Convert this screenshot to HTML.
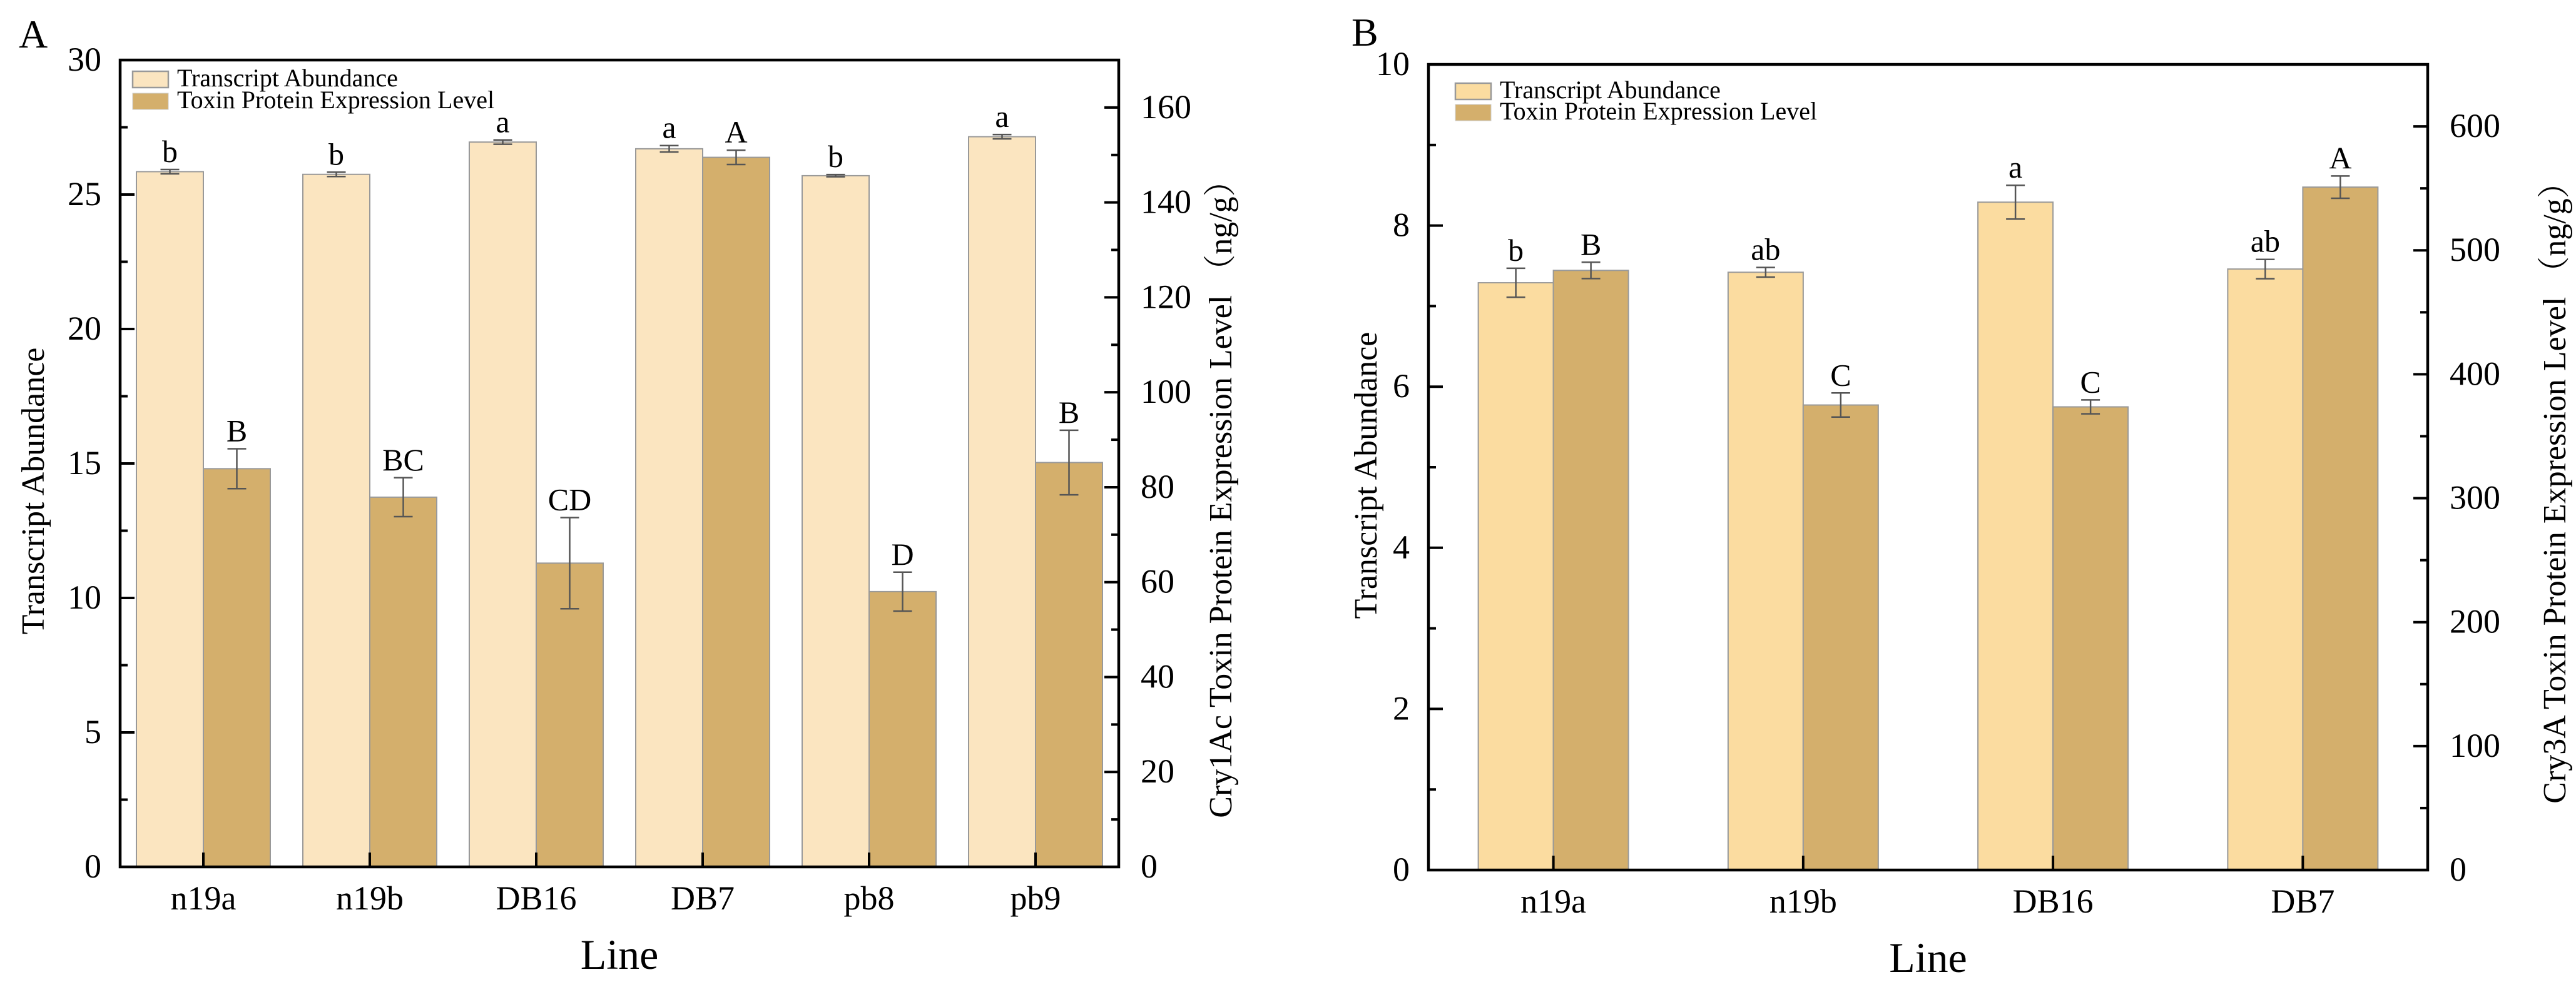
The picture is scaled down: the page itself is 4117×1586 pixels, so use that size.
<!DOCTYPE html>
<html><head><meta charset="utf-8"><style>
html,body{margin:0;padding:0;background:#fff;}
svg{display:block;font-family:"Liberation Serif","Noto Serif CJK SC",serif;}
svg text{font-family:"Liberation Serif","Noto Serif CJK SC",serif;}
</style></head><body>
<svg id="chart" width="4117" height="1586" viewBox="0 0 4117 1586" font-family="Liberation Serif, serif" xmlns="http://www.w3.org/2000/svg"></svg>
<script>
// Panel A data
const catsA = ["n19a","n19b","DB16","DB7","pb8","pb9"];
const transA = [25.85,25.75,26.95,26.7,25.7,27.15];
const transErrA = [0.08,0.08,0.08,0.12,0.04,0.08];
const protA = [83.9,77.9,64.0,149.5,58.0,85.2];
const protErrA = [4.2,4.1,9.6,1.5,4.1,6.8];
const transLetA = ["b","b","a","a","b","a"];
const protLetA = ["B","BC","CD","A","D","B"];
const leftTicksA = [0,5,10,15,20,25,30];
const rightTicksA = [0,20,40,60,80,100,120,140,160];
// Panel B data
const catsB = ["n19a","n19b","DB16","DB7"];
const transB = [7.29,7.42,8.29,7.46];
const transErrB = [0.18,0.06,0.21,0.12];
const protB = [483.8,375.2,373.7,551.0];
const protErrB = [6.6,9.7,5.6,9.0];
const transLetB = ["b","ab","a","ab"];
const protLetB = ["B","C","C","A"];
const leftTicksB = [0,2,4,6,8,10];
const rightTicksB = [0,100,200,300,400,500,600];

const svg = document.getElementById('chart');
const NS = "http://www.w3.org/2000/svg";
function mk(tag, attrs, parent, text){
  const e = document.createElementNS(NS, tag);
  for (const k in attrs) e.setAttribute(k, attrs[k]);
  if (tag === 'text') e.setAttribute('font-family', '"Liberation Serif", "Noto Serif CJK SC", serif');
  if (text !== undefined) e.textContent = text;
  (parent || svg).appendChild(e);
  return e;
}

function panel(cfg){
  const g = mk('g', {});
  
  
  const {L,R,T,B} = cfg;
  const n = cfg.cats.length;
  const step = (R-L)/n;
  const xc = i => L + step*(i+0.5);
  const yL = v => B - (v/cfg.lMax)*(B-T);
  const yR = v => B - (v/cfg.rMax)*(B-T);
  const bw = cfg.bw;
  for (let i=0;i<n;i++){
    const c = xc(i);
    const r1 = mk('rect', {x:c-bw, y:yL(cfg.trans[i]), width:bw, height:B-yL(cfg.trans[i]), fill:cfg.light, stroke:'#999', 'stroke-width':2}, g);
    
    
    const r2 = mk('rect', {x:c, y:yR(cfg.prot[i]), width:bw, height:B-yR(cfg.prot[i]), fill:cfg.dark, stroke:'#999', 'stroke-width':2}, g);
    
    
    const ex1 = c-bw/2, ex2 = c+bw/2;
    const e1t = yL(cfg.trans[i]+cfg.transErr[i]), e1b = yL(cfg.trans[i]-cfg.transErr[i]);
    const e2t = yR(cfg.prot[i]+cfg.protErr[i]), e2b = yR(cfg.prot[i]-cfg.protErr[i]);
    const eg = mk('g', {stroke:'#555','stroke-width':2.5}, g);
    
    
    [[ex1,e1t,e1b],[ex2,e2t,e2b]].forEach(([x,t,b])=>{
      mk('line',{x1:x,x2:x,y1:t,y2:b},eg);
      mk('line',{x1:x-15,x2:x+15,y1:t,y2:t},eg);
      mk('line',{x1:x-15,x2:x+15,y1:b,y2:b},eg);
    });
    const t1 = mk('text',{x:ex1,y:e1t-12,'text-anchor':'middle','font-size':50}, g, cfg.transLet[i]);
    
    
    const t2 = mk('text',{x:ex2,y:e2t-12,'text-anchor':'middle','font-size':50}, g, cfg.protLet[i]);
    
    
    mk('line',{x1:c,x2:c,y1:B,y2:B-23,stroke:'#000','stroke-width':4},g);
    const xl = mk('text',{x:c,y:B+68,'text-anchor':'middle','font-size':54},g,cfg.cats[i]);
    
    
  }
  const fr = mk('rect',{x:L,y:T,width:R-L,height:B-T,fill:'none',stroke:'#000','stroke-width':4.5},g);
  
  
  cfg.lTicks.forEach((v,k)=>{
    const y=yL(v);
    mk('line',{x1:L,x2:L+23,y1:y,y2:y,stroke:'#000','stroke-width':4},g);
    const tl = mk('text',{x:L-30,y:y+17,'text-anchor':'end','font-size':54},g,String(v));
    
    
    if (k<cfg.lTicks.length-1){
      const ym = yL((v+cfg.lTicks[k+1])/2);
      mk('line',{x1:L,x2:L+12,y1:ym,y2:ym,stroke:'#000','stroke-width':4},g);
    }
  });
  const rStep = cfg.rTicks[1]-cfg.rTicks[0];
  cfg.rTicks.forEach(v=>{
    const y=yR(v);
    mk('line',{x1:R,x2:R-23,y1:y,y2:y,stroke:'#000','stroke-width':4},g);
    const tl = mk('text',{x:R+35,y:y+17,'text-anchor':'start','font-size':54},g,String(v));
    
    
    const vm = v+rStep/2;
    if (vm < cfg.rMax){
      const ym=yR(vm);
      mk('line',{x1:R,x2:R-12,y1:ym,y2:ym,stroke:'#000','stroke-width':4},g);
    }
  });
  const lt = mk('text',{x:cfg.ltX,y:cfg.ltY,'text-anchor':'middle','font-size':52,transform:`rotate(-90 ${cfg.ltX} ${cfg.ltY})`},g,'Transcript Abundance');
  
  
  const rt = mk('text',{x:cfg.rtX,y:cfg.rtY,'text-anchor':'middle','font-size':52,transform:`rotate(-90 ${cfg.rtX} ${cfg.rtY})`},g,cfg.rTitle);
  
  
  const xt = mk('text',{x:(L+R)/2,y:B+163,'text-anchor':'middle','font-size':68},g,'Line');
  
  
  const pl = mk('text',{x:cfg.plX,y:cfg.plY,'font-size':64},g,cfg.label);
  
  
  const lg = mk('g',{},g);
  
  
  mk('rect',{x:cfg.lgX,y:cfg.lgY,width:57,height:26,fill:cfg.light,stroke:'#999','stroke-width':2.5},lg);
  mk('rect',{x:cfg.lgX,y:cfg.lgY+cfg.lgGap,width:57,height:26,fill:cfg.dark,stroke:'#ccc','stroke-width':1},lg);
  mk('text',{x:cfg.lgX+71,y:cfg.lgY+24,'font-size':40},lg,'Transcript Abundance');
  mk('text',{x:cfg.lgX+71,y:cfg.lgY+24+cfg.lgGap,'font-size':40},lg,'Toxin Protein Expression Level');
}

panel({name:'panel-a', label:'A', plX:30, plY:76, L:192, R:1788, T:96, B:1386, bw:107,
  cats:catsA, trans:transA, transErr:transErrA, prot:protA, protErr:protErrA,
  transLet:transLetA, protLet:protLetA, lTicks:leftTicksA, rTicks:rightTicksA, lMax:30, rMax:170,
  light:'#FBE5C0', dark:'#D4AF6C', ltX:70, ltY:785, rtX:1968, rtY:785,
  rTitle:'Cry1Ac Toxin Protein Expression Level （ng/g）', lgX:212, lgY:114, lgGap:35});

panel({name:'panel-b', label:'B', plX:2160, plY:73, L:2283, R:3880, T:103, B:1391, bw:120,
  cats:catsB, trans:transB, transErr:transErrB, prot:protB, protErr:protErrB,
  transLet:transLetB, protLet:protLetB, lTicks:leftTicksB, rTicks:rightTicksB, lMax:10, rMax:650,
  light:'#FBDCA0', dark:'#D4AF6C', ltX:2200, ltY:760, rtX:4100, rtY:775,
  rTitle:'Cry3A Toxin Protein Expression Level （ng/g）', lgX:2326, lgY:133, lgGap:34});
</script>
</body></html>
